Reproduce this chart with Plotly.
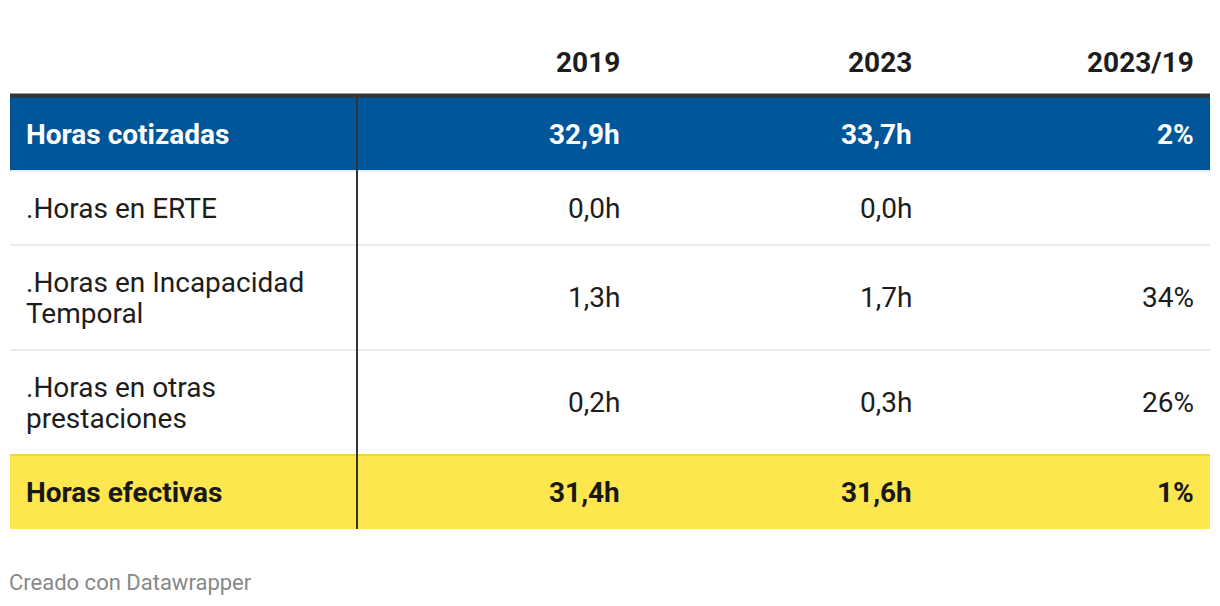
import plotly.graph_objects as go

# ---------------- data ----------------
columns = ["", "2019", "2023", "2023/19"]
row_labels = [
    "Horas cotizadas",
    ".Horas en ERTE",
    ".Horas en Incapacidad|Temporal",
    ".Horas en otras|prestaciones",
    "Horas efectivas",
]
hours_2019 = [32.9, 0.0, 1.3, 0.2, 31.4]
hours_2023 = [33.7, 0.0, 1.7, 0.3, 31.6]
change_pct = [2, None, 34, 26, 1]
row_style = ["blue", "plain", "plain", "plain", "yellow"]
footer = "Creado con Datawrapper"

# ---------------- styling ----------------
W, H = 1220, 606
PAGE_MARGIN = 8  # default body margin of the html page
FONT = "Roboto"
FS = 28
LINE_H = 31
TABLE_L, TABLE_R = 10, 1210
DIVIDER_X = 357
COL_RIGHT = [None, 622, 914, 1196]
LABEL_X = 24
HEADER_Y = 62
HEADER_LINE_Y = 95.5
BASE_ROW_H = 74
STYLES = {
    "blue": dict(fill="#01569a", color="#ffffff", bold=True),
    "yellow": dict(fill="#fee64f", color="#181818", bold=True),
    "plain": dict(fill="#ffffff", color="#1d1d1d", bold=False),
}


def fmt_h(v):
    return f"{v:.1f}".replace(".", ",") + "h"


def fmt_p(v):
    return "" if v is None else f"{v}%"


fig = go.Figure()
shapes = []
annotations = []


def txt(x, y, s, color, bold, anchor, size=FS, xshift=0):
    annotations.append(dict(
        x=x, y=y, xref="x", yref="y", text=f"<b>{s}</b>" if bold else s,
        showarrow=False, xanchor=anchor, yanchor="middle", xshift=xshift,
        font=dict(family=FONT, size=size, color=color),
    ))


# header
for ci, name in enumerate(columns):
    if name:
        txt(COL_RIGHT[ci], HEADER_Y, name, "#1d1d1d", True, "right")

# rows
y = 97
row_bounds = []
for i, label in enumerate(row_labels):
    lines = label.split("|")
    h = BASE_ROW_H + (len(lines) - 1) * LINE_H
    top, bot = y, y + h
    st = STYLES[row_style[i]]
    shapes.append(dict(type="rect", xref="x", yref="y", x0=TABLE_L, x1=TABLE_R,
                       y0=top, y1=bot, fillcolor=st["fill"], line=dict(width=0),
                       layer="below"))
    cy = (top + bot) / 2
    for li, ln in enumerate(lines):
        ly = cy + (li - (len(lines) - 1) / 2) * LINE_H
        txt(LABEL_X, ly, ln, st["color"], st["bold"], "left")
    vals = [fmt_h(hours_2019[i]), fmt_h(hours_2023[i]), fmt_p(change_pct[i])]
    for ci, v in enumerate(vals, start=1):
        if v:
            txt(COL_RIGHT[ci], cy, v, st["color"], st["bold"], "right")
    row_bounds.append((top, bot))
    y = bot

# row separators
for i in range(len(row_bounds) - 1):
    b = row_bounds[i][1]
    col = "#e8d544" if row_style[i + 1] == "yellow" else "#ececec"
    shapes.append(dict(type="line", xref="x", yref="y", x0=TABLE_L, x1=TABLE_R,
                       y0=b, y1=b, line=dict(color=col, width=2)))

# header bottom rule
shapes.append(dict(type="line", xref="x", yref="y", x0=TABLE_L, x1=TABLE_R,
                   y0=HEADER_LINE_Y, y1=HEADER_LINE_Y, line=dict(color="#333333", width=4)))
# vertical divider
shapes.append(dict(type="line", xref="x", yref="y", x0=DIVIDER_X, x1=DIVIDER_X,
                   y0=97, y1=row_bounds[-1][1], line=dict(color="#333333", width=2)))

# footer
txt(TABLE_L, 582, footer, "#888888", False, "left", size=22, xshift=-3)

m = PAGE_MARGIN
fig.update_layout(
    width=W - 2 * m, height=H - 2 * m,
    margin=dict(l=0, r=0, t=0, b=0),
    paper_bgcolor="white", plot_bgcolor="white",
    xaxis=dict(range=[m, W - m], visible=False, fixedrange=True),
    yaxis=dict(range=[H - m, m], visible=False, fixedrange=True),
    shapes=shapes, annotations=annotations, showlegend=False,
)
fig.write_html("out.html", config={"displayModeBar": False})
